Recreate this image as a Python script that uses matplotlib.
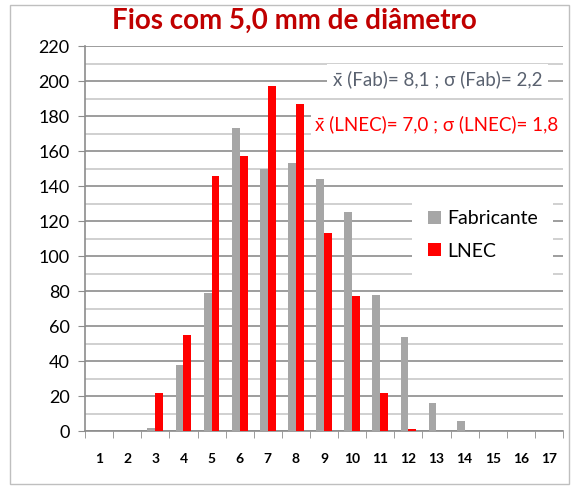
import numpy as np
import matplotlib.pyplot as plt
from matplotlib.patches import Rectangle

# classes e contagens
classes = list(range(1, 18))
fabricante = [0, 0, 2, 38, 79, 173, 150, 153, 144, 125, 78, 54, 16, 6, 0, 0, 0]
lnec = [0, 0, 22, 55, 146, 157, 197, 187, 113, 77, 22, 1, 0, 0, 0, 0, 0]

plt.rcParams['font.family'] = ['Lato', 'DejaVu Sans']

fig = plt.figure(figsize=(5.71, 4.86), dpi=100)
ax = fig.add_axes([0.149, 0.113, 0.837, 0.792])

# moldura do gráfico
fig.patches.append(Rectangle((0.018, 0.004), 0.978, 0.985, transform=fig.transFigure,
                             fill=False, edgecolor='#bfbfbf', lw=1))

x = np.arange(len(classes))
w = 0.28
ax.bar(x - w / 2, fabricante, w, color='#a6a6a6', label='Fabricante', zorder=3)
ax.bar(x + w / 2, lnec, w, color='#ff0000', label='LNEC', zorder=3)

ax.set_xlim(-0.5, len(classes) - 0.5)
ax.set_ylim(0, 220)
ax.set_yticks(np.arange(0, 221, 20))
ax.set_yticks(np.arange(10, 220, 20), minor=True)
ax.grid(axis='y', which='major', color='#8c8c8c', lw=1.2, zorder=0)
ax.grid(axis='y', which='minor', color='#c8c8c8', lw=1.2, zorder=0)

ax.set_xticks(x)
ax.set_xticklabels([str(c) for c in classes], fontweight='bold', fontsize=10)
ax.set_xticks(np.arange(-0.5, len(classes), 1), minor=True)
ax.tick_params(axis='x', which='major', length=0, pad=16)
ax.tick_params(axis='x', which='minor', length=5, color='#8c8c8c', direction='out')
ax.tick_params(axis='y', which='major', length=5, color='#8c8c8c', labelsize=13, pad=6)
ax.tick_params(axis='y', which='minor', length=0)

for s in ['top', 'right']:
    ax.spines[s].set_visible(False)
for s in ['left', 'bottom']:
    ax.spines[s].set_color('#8c8c8c')
    ax.spines[s].set_linewidth(1.2)

fig.text(0.515, 0.958, 'Fios com 5,0 mm de diâmetro', ha='center', va='center',
         fontsize=20, fontweight='bold', color='#c00000')

fig.text(0.583, 0.838, 'x\u0304 (Fab)= 8,1 ; \u03c3 (Fab)= 2,2', ha='left', va='center',
         fontsize=13.5, color='#5a6270', zorder=5,
         bbox=dict(facecolor='white', edgecolor='none', pad=4))
fig.text(0.552, 0.745, 'x\u0304 (LNEC)= 7,0 ; \u03c3 (LNEC)= 1,8', ha='left', va='center',
         fontsize=13.5, color='#ff0000', zorder=5,
         bbox=dict(facecolor='white', edgecolor='none', pad=3))

leg = ax.legend(loc='center left', bbox_to_anchor=(0.664, 0.51), frameon=True,
                fontsize=14, handlelength=0.68, handleheight=0.68, handletextpad=0.3,
                borderpad=0.8, labelspacing=0.8)
leg.get_frame().set_edgecolor('none')
leg.get_frame().set_facecolor('white')
leg.get_frame().set_alpha(1)
leg.get_frame().set_boxstyle('square', pad=0)

fig.savefig('out.png', dpi=100)
